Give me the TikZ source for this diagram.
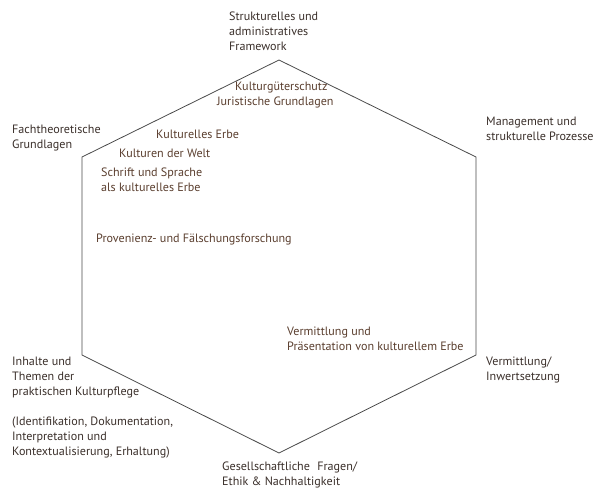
\documentclass[tikz,border=0pt]{standalone}
\usepackage{fontspec}
\setmainfont{PT Sans}
\definecolor{outertxt}{HTML}{3A2F2A}
\definecolor{innertxt}{HTML}{5A3E2E}
\definecolor{hexline}{HTML}{4A4A4A}
\begin{document}
\begin{tikzpicture}[x=1pt,y=-1pt,
  lbl/.style={anchor=north west,inner sep=0pt,align=left,font=\fontsize{12.1}{15}\selectfont,text=outertxt},
  inlbl/.style={lbl,text=innertxt},
  hex/.style={draw=hexline,line width=0.8pt,line join=miter}]
\useasboundingbox (0,0) rectangle (594,490);
\coordinate (T) at (279,60);
\coordinate (UR) at (476,157);
\coordinate (LR) at (476,355);
\coordinate (B) at (279,453);
\coordinate (LL) at (82,355);
\coordinate (UL) at (82,157);
\draw[hex] (T) -- (UR) -- (LR) -- (B) -- (LL) -- (UL) -- cycle;
% outer labels
\node[lbl] (top) at (229,12) {Strukturelles und\\administratives\\Framework};
\node[lbl] (fach) at (12,125) {Fachtheoretische\\Grundlagen};
\node[lbl] (mgmt) at (486,117) {Management und\\strukturelle Prozesse};
\node[lbl] (verm) at (486,357) {Vermittlung/\\Inwertsetzung};
\node[lbl] (inh) at (12,357) {Inhalte und\\Themen der\\praktischen Kulturpflege\\[15pt](Identifikation, Dokumentation,\\Interpretation und\\Kontextualisierung, Erhaltung)};
\node[lbl] (ges) at (222,462) {Gesellschaftliche\hspace{0.6em}Fragen/\\Ethik \& Nachhaltigkeit};
% inner labels
\node[inlbl] (kgs) at (217,82) {\hspace*{18pt}Kulturgüterschutz\\Juristische Grundlagen};
\node[inlbl] (ke) at (156,130) {Kulturelles Erbe};
\node[inlbl] (kw) at (119,149) {Kulturen der Welt};
\node[inlbl] (ss) at (101,168) {Schrift und Sprache\\als kulturelles Erbe};
\node[inlbl] (prov) at (96,234) {Provenienz- und Fälschungsforschung};
\node[inlbl] (vp) at (287,327) {Vermittlung und\\Präsentation von kulturellem Erbe};
\end{tikzpicture}
\end{document}
